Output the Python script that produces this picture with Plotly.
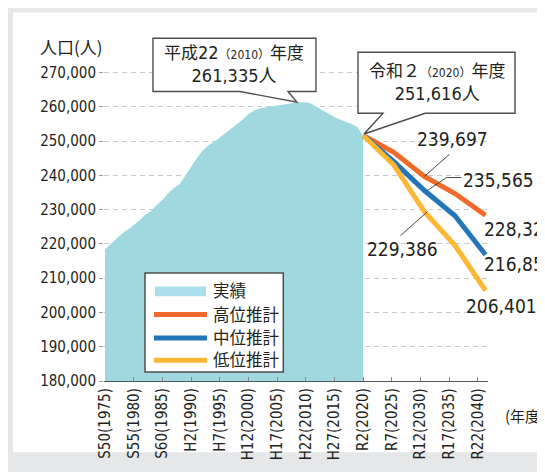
import plotly.graph_objects as go

# ---------------- data ----------------
years_actual = list(range(1975, 2021))
pop_actual = [218400, 220000, 221500, 223000, 224200, 225400, 226800, 228500, 229600, 231300,
              232800, 234700, 236300, 237400, 240000, 242200, 244900, 247200, 248700, 249700,
              251000, 252300, 253400, 254800, 256200, 257800, 258900, 259600, 259900, 260200,
              260400, 260570, 260900, 261200, 261330, 261335, 260900, 259900, 259000, 257900,
              257000, 256310, 255700, 255000, 254100, 251616]

years_proj = [2020, 2025, 2030, 2035, 2040]
pop_high = [251616, 246700, 239697, 234700, 228328]
pop_mid = [251616, 244000, 235565, 228200, 216854]
pop_low = [251616, 243000, 229386, 219600, 206401]

x_tick_years = [1975, 1980, 1985, 1990, 1995, 2000, 2005, 2010, 2015, 2020, 2025, 2030, 2035, 2040]
x_tick_labels = ["S50(1975)", "S55(1980)", "S60(1985)", "H2(1990)", "H7(1995)", "H12(2000)",
                 "H17(2005)", "H22(2010)", "H27(2015)", "R2(2020)", "R7(2025)", "R12(2030)",
                 "R17(2035)", "R22(2040)"]
y_tick_vals = [180000, 190000, 200000, 210000, 220000, 230000, 240000, 250000, 260000, 270000]

series_names = ["実績", "高位推計", "中位推計", "低位推計"]
peak_year, peak_value = 2010, 261335
base_year, base_value = 2020, 251616
label_year = 2030

# ---------------- styles ----------------
C_AREA = "#a0d8e0"
C_AREA_LEG = "#aadded"
C_HIGH = "#f26a2a"
C_MID = "#2474ba"
C_LOW = "#fdb733"
C_TEXT = "#231f20"
C_BOX = "#4d4d4d"
F_NUM = "DejaVu Sans Condensed, Noto Sans CJK JP, sans-serif"
F_JP = "Noto Sans CJK JP, sans-serif"

OFF = 8  # page body margin
W, H = 545, 472
L, R, T, B = 104, 488, 30, 390          # plot area in page pixels
X_RANGE = [1974.826, 2041.80]
X2_RANGE = [1977.56, 2040.41]
Y_RANGE = [180000, 282400]


def fmt(v):
    return f"{v // 1000},{v % 1000:03d}"


def pp(px, py):
    return (px - L) / (R - L), (B - py) / (B - T)


def xp(year):
    return (year - X_RANGE[0]) / (X_RANGE[1] - X_RANGE[0])


def yp(v):
    return (v - Y_RANGE[0]) / (Y_RANGE[1] - Y_RANGE[0])


fig = go.Figure()
fig.add_trace(go.Scatter(x=years_actual, y=pop_actual, mode="lines", fill="tozeroy",
                         line=dict(width=0, color=C_AREA), fillcolor=C_AREA,
                         name=series_names[0], showlegend=False, hoverinfo="x+y"))
for vals, col, nm in [(pop_high, C_HIGH, series_names[1]),
                      (pop_mid, C_MID, series_names[2]),
                      (pop_low, C_LOW, series_names[3])]:
    fig.add_trace(go.Scatter(x=years_proj, y=vals, mode="lines", xaxis="x2",
                             line=dict(width=5, color=col), name=nm, showlegend=False))

shapes = []
# frame
x0, y0 = pp(6, 490)
x1, y1 = pp(600, 4)
shapes.append(dict(type="rect", xref="paper", yref="paper", x0=x0, y0=y0, x1=x1, y1=y1,
                   fillcolor="#e6e7e8", line=dict(width=0), layer="below"))
x0, y0 = pp(13, 463)
x1, y1 = pp(600, 12)
shapes.append(dict(type="rect", xref="paper", yref="paper", x0=x0, y0=y0, x1=x1, y1=y1,
                   fillcolor="white", line=dict(width=0), layer="below"))


def callout(year, value, left, right, top, bottom, b1, b2, tip):
    path = (f"M{left},{bottom} L{left},{top} L{right},{top} L{right},{bottom} "
            f"L{b2},{bottom} L{tip[0]},{tip[1]} L{b1},{bottom} Z")
    return dict(type="path", xref="paper", yref="paper", xsizemode="pixel", ysizemode="pixel",
                xanchor=xp(year), yanchor=yp(value), path=path, fillcolor="white",
                line=dict(color=C_BOX, width=1.4))


shapes.append(callout(peak_year, peak_value, -152.7, 10.3, 64, 10.7, -65.7, -17.7, (-8.7, 0)))
shapes.append(callout(base_year, base_value, -5, 152, 83.2, 22.2, 20, 62, (1, 1.5)))

# leader lines for 2030 labels
for val, path in [(pop_high[2], "M0,0 L25,22"),
                  (pop_mid[2], "M3,0 L22,13 L37,13"),
                  (pop_low[2], "M3,0 L-24,-24")]:
    shapes.append(dict(type="path", xref="x2", yref="y", xsizemode="pixel", ysizemode="pixel",
                       xanchor=label_year, yanchor=val, path=path,
                       line=dict(color="#333333", width=0.9)))

# manual legend
x0, y0 = pp(145, 380.7)
x1, y1 = pp(283.3, 279.3)
shapes.append(dict(type="rect", xref="paper", yref="paper", x0=x0, y0=y0, x1=x1, y1=y1,
                   fillcolor="white", line=dict(color=C_BOX, width=1.5)))
x0, y0 = pp(155, 303)
x1, y1 = pp(206, 293)
shapes.append(dict(type="rect", xref="paper", yref="paper", x0=x0, y0=y0, x1=x1, y1=y1,
                   fillcolor=C_AREA_LEG, line=dict(width=0)))
leg_rows = [(321.7, C_HIGH), (346, C_MID), (368.7, C_LOW)]
for yy, col in leg_rows:
    x0, y0 = pp(154, yy)
    x1, _ = pp(207, yy)
    shapes.append(dict(type="line", xref="paper", yref="paper", x0=x0, y0=y0, x1=x1, y1=y0,
                       line=dict(color=col, width=5)))

annotations = []
leg_text_y = [296.5, 321.5, 344.5, 367.5]
for nm, yy in zip(series_names, leg_text_y):
    ax, ay = pp(211, yy)
    annotations.append(dict(xref="paper", yref="paper", x=ax, y=ay, text=nm, showarrow=False,
                            xanchor="left", yanchor="middle",
                            font=dict(family=F_JP, size=16.5, color=C_TEXT)))

# callout texts
t1 = (f"<span style='font-size:17px'>平成</span>22<span style='font-size:12px'>（{peak_year}）</span>"
      f"<span style='font-size:17px'>年度</span><br>{fmt(peak_value)}人")
t2 = (f"<span style='font-size:17px'>令和２</span><span style='font-size:12px'>（{base_year}）</span>"
      f"<span style='font-size:17px'>年度</span><br>{fmt(base_value)}人")
annotations.append(dict(xref="x", yref="y", x=peak_year, y=peak_value, xshift=-71.2, yshift=38,
                        text=t1, showarrow=False, align="center",
                        font=dict(family=F_NUM, size=18, color=C_TEXT)))
annotations.append(dict(xref="x", yref="y", x=base_year, y=base_value, xshift=73.5, yshift=52.7,
                        text=t2, showarrow=False, align="center",
                        font=dict(family=F_NUM, size=18, color=C_TEXT)))

# value labels
val_labels = [
    (label_year, pop_high[2], 27.6, 37, "center"),
    (label_year, pop_mid[2], 73.6, 10.6, "center"),
    (label_year, pop_low[2], -22.4, -37.6, "center"),
    (years_proj[-1], pop_high[-1], -3.5, -14, "left"),
    (years_proj[-1], pop_mid[-1], -3.5, -9.6, "left"),
    (years_proj[-1], pop_low[-1], -21.5, -15.8, "left"),
]
for yr, v, xs, ys, anc in val_labels:
    annotations.append(dict(xref="x2", yref="y", x=yr, y=v, xshift=xs, yshift=ys,
                            text=fmt(v), showarrow=False, xanchor=anc, yanchor="middle",
                            font=dict(family=F_NUM, size=19, color=C_TEXT)))

ax, ay = pp(38, 47)
annotations.append(dict(xref="paper", yref="paper", x=ax, y=ay, text="人口(人)", showarrow=False,
                        xanchor="left", yanchor="middle",
                        font=dict(family=F_JP, size=17, color=C_TEXT)))
ax, ay = pp(525, 425)
annotations.append(dict(xref="paper", yref="paper", x=ax, y=ay, text="(年度)", showarrow=False,
                        xanchor="center", yanchor="middle",
                        font=dict(family=F_JP, size=15, color=C_TEXT)))

fig.update_layout(
    width=W - OFF, height=H - OFF,
    margin=dict(l=L - OFF, r=W - R, t=T - OFF, b=H - B, pad=0),
    paper_bgcolor="white", plot_bgcolor="rgba(0,0,0,0)",
    showlegend=False,
    xaxis=dict(range=X_RANGE, tickvals=x_tick_years, ticktext=x_tick_labels, tickangle=-90,
               showline=True, linecolor="#555555", linewidth=1.2, ticks="inside", ticklen=4,
               tickcolor="#888888", showgrid=False, zeroline=False,
               tickfont=dict(family=F_NUM, size=15, color=C_TEXT)),
    xaxis2=dict(range=X2_RANGE, overlaying="x", visible=False),
    yaxis=dict(range=Y_RANGE, tickvals=y_tick_vals, ticktext=[fmt(v) for v in y_tick_vals],
               showline=False, ticks="outside", ticklen=4, tickcolor="#999999",
               showgrid=True, gridcolor="#c9c9c9", gridwidth=1, griddash="5px,4px",
               zeroline=False, tickfont=dict(family=F_NUM, size=15, color=C_TEXT)),
    shapes=shapes,
    annotations=annotations,
)

fig.write_html("out.html")
